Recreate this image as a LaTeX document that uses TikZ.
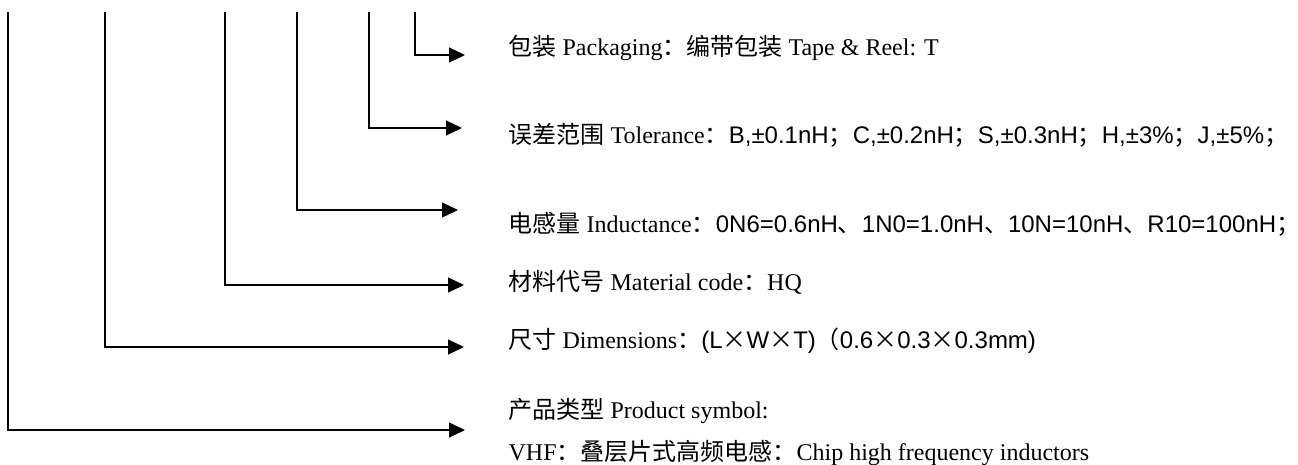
\documentclass[tikz,border=0pt]{standalone}
\usepackage{fontspec}
\setmainfont{Liberation Serif}
\newfontfamily\zhfont{Noto Sans CJK SC}
\newfontfamily\arfont{Liberation Sans}
\newcommand{\zh}[1]{{\zhfont #1}}
\newcommand{\ar}[1]{{\arfont #1}}
\usetikzlibrary{arrows.meta}

\begin{document}
\begin{tikzpicture}[x=1pt,y=-1pt,>={Triangle[length=16pt,width=15pt]},line width=1.2pt,
        txt/.style={anchor=base west, inner sep=0pt, font=\fontsize{24}{28}\selectfont}]
        \useasboundingbox (0,0) rectangle (1298,464);

        \node at (508,55)  [txt] (packaging) {\zh{包装} Packaging\zh{：编带包装} Tape \& Reel: T};
        \node at (508,143) [txt] (tolerance) {\zh{误差范围} Tolerance\zh{：}\ar{B,±0.1nH}\zh{；}\ar{C,±0.2nH}\zh{；}\ar{S,±0.3nH}\zh{；}\ar{H,±3\%}\zh{；}\ar{J,±5\%}\zh{；}};
        \node at (508,232) [txt] (inductance) {\zh{电感量} Inductance\zh{：}\ar{0N6=0.6nH}\zh{、}\ar{1N0=1.0nH}\zh{、}\ar{10N=10nH}\zh{、}\ar{R10=100nH}\zh{；}};
        \node at (508,290) [txt] (material) {\zh{材料代号} Material code\zh{：}HQ};
        \node at (508,348) [txt] (dimensions) {\zh{尺寸} Dimensions\zh{：}\ar{(L}\zh{×}\ar{W}\zh{×}\ar{T)}\zh{（}\ar{0.6}\zh{×}\ar{0.3}\zh{×}\ar{0.3mm)}};
        \node at (508,418) [txt] (product) {\zh{产品类型} Product symbol:};
        \node at (508,460) [txt] (vhf) {VHF\zh{：叠层片式高频电感：}Chip high frequency inductors};

        % upper ends of the code lines
        \coordinate (packaging_top)  at (415,12);
        \coordinate (tolerance_top)  at (369,12);
        \coordinate (inductance_top) at (297,12);
        \coordinate (material_top)   at (225,12);
        \coordinate (dimensions_top) at (105,12);
        \coordinate (product_top)    at (8,12);

        % arrow tips
        \coordinate (packaging_tip)  at (465,55);
        \coordinate (tolerance_tip)  at (462,128);
        \coordinate (inductance_tip) at (458,210);
        \coordinate (material_tip)   at (464,285);
        \coordinate (dimensions_tip) at (464,347);
        \coordinate (product_tip)    at (465,430);

        \draw[->] (packaging_top)  |- (packaging_tip);
        \draw[->] (tolerance_top)  |- (tolerance_tip);
        \draw[->] (inductance_top) |- (inductance_tip);
        \draw[->] (material_top)   |- (material_tip);
        \draw[->] (dimensions_top) |- (dimensions_tip);
        \draw[->] (product_top)    |- (product_tip);

    \end{tikzpicture}
\end{document}
